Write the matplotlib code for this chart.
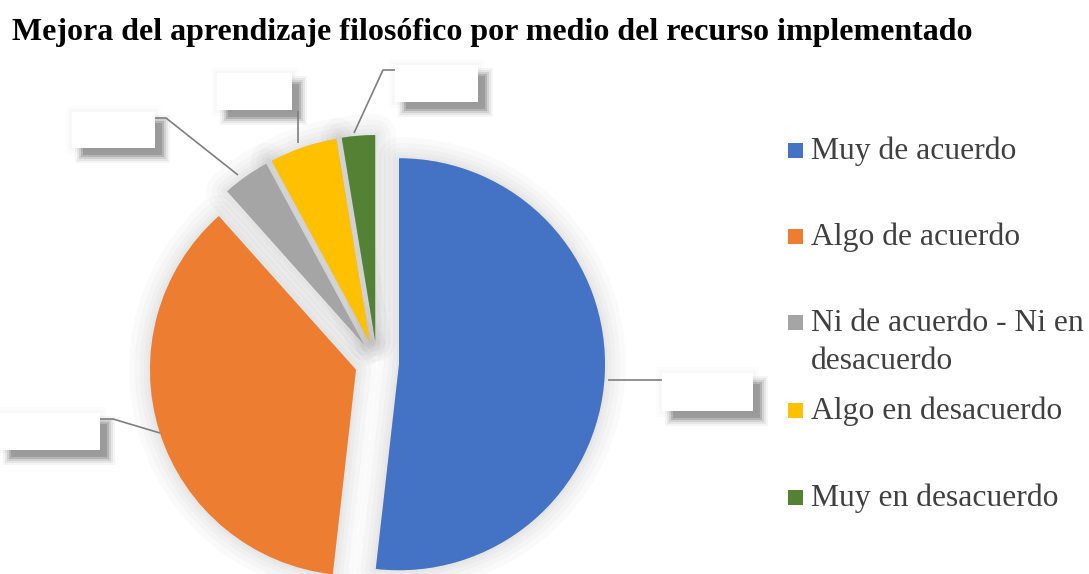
#!/usr/bin/env python3

import matplotlib.pyplot as plt
from matplotlib.patches import Rectangle

categories = ["Muy de acuerdo", "Algo de acuerdo", "Ni de acuerdo - Ni en\ndesacuerdo",
              "Algo en desacuerdo", "Muy en desacuerdo"]
percentages = [51.8, 36.6, 3.7, 5.3, 2.6]
colors = ["#4472C4", "#ED7D31", "#A5A5A5", "#FFC000", "#548235"]

title = "Mejora del aprendizaje filosófico por medio del recurso implementado"

W, H = 1089, 574
fig = plt.figure(figsize=(W / 100, H / 100), dpi=100)

# pie axes: 1 data unit = R pixels, centre at (cx, cy) in image pixels
cx, cy, R = 377, 363, 206
ax = fig.add_axes([0, 0, 1, 1])
explode = [0.107] * len(percentages)

# soft glow around the slices
for lw in [30, 22, 15, 9, 4]:
    ax.pie(percentages, explode=explode, startangle=90, counterclock=False,
           colors=["#000000"] * len(percentages),
           wedgeprops=dict(linewidth=lw, edgecolor="#000000", alpha=0.018,
                           joinstyle="round"))
ax.pie(percentages, explode=explode, startangle=90, counterclock=False,
       colors=colors, wedgeprops=dict(linewidth=0))
ax.set_aspect("auto")
ax.set_xlim(-cx / R, (W - cx) / R)
ax.set_ylim(-(H - cy) / R, cy / R)
ax.axis("off")

# overlay in pixel coordinates for label boxes, leaders and legend
ov = fig.add_axes([0, 0, 1, 1], zorder=3)
ov.set_xlim(0, W)
ov.set_ylim(H, 0)
ov.axis("off")

boxes = [(662, 373, 753, 411), (0, 413, 100, 450), (72, 112, 155, 148),
         (217, 73, 292, 110), (395, 65, 478, 102)]
leaders = [[(608, 380), (662, 380)],
           [(160, 433), (113, 419), (100, 419)],
           [(238, 175), (166, 118), (155, 118)],
           [(298, 143), (298, 111)],
           [(354, 133), (383, 70), (395, 70)]]

for pts in leaders:
    ov.plot([p[0] for p in pts], [p[1] for p in pts], color="#7F7F7F", lw=1.2,
            solid_capstyle="butt")

for x0, y0, x1, y1 in boxes:
    # faint halo
    for grow, a in [(6, 0.02), (3, 0.03)]:
        ov.add_patch(Rectangle((x0 - grow, y0 - grow), x1 - x0 + 2 * grow,
                               y1 - y0 + 2 * grow, facecolor="#808080",
                               edgecolor="none", alpha=a))
    # blurred drop shadow
    for grow, a in [(6, 0.08), (4, 0.12), (2, 0.2), (0, 0.35), (-2, 0.45)]:
        ov.add_patch(Rectangle((x0 + 9 - grow, y0 + 9 - grow), x1 - x0 + 2 * grow,
                               y1 - y0 + 2 * grow, facecolor="#808080",
                               edgecolor="none", alpha=a))
    ov.add_patch(Rectangle((x0, y0), x1 - x0, y1 - y0, facecolor="white",
                           edgecolor="none"))

fig.text(12 / W, 1 - 40 / H, title, fontsize=23, fontweight="bold",
         family="Liberation Serif", color="black", va="baseline", ha="left")

# legend
legend_y = [150, 236, 322, 410, 497]
for name, col, y in zip(categories, colors, legend_y):
    ov.add_patch(Rectangle((788, y - 7.5), 15, 15, facecolor=col, edgecolor="none"))
    for i, line in enumerate(name.split("\n")):
        ov.text(811, y + 9 + i * 38, line, fontsize=22.8, family="Liberation Serif",
                color="#404040", va="baseline", ha="left")

fig.savefig("out.png", dpi=100)
